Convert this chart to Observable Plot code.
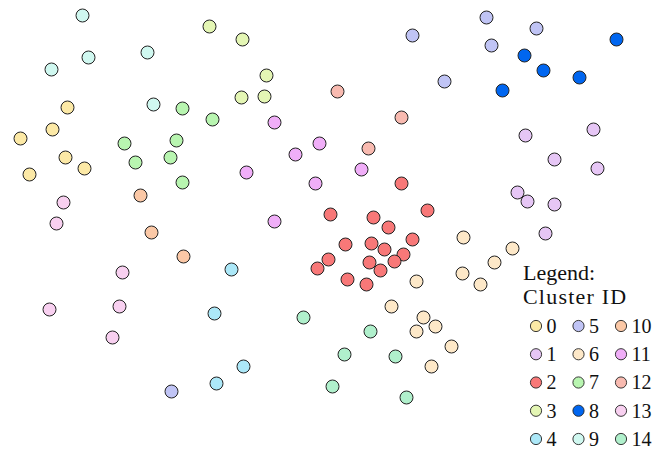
<!DOCTYPE html>
<html><head><meta charset="utf-8">
<script src="https://cdn.jsdelivr.net/npm/d3@7"></script>
<script src="https://cdn.jsdelivr.net/npm/@observablehq/plot@0.6"></script>
<style>
body{margin:0;background:#fff;}
#wrap{position:relative;width:665px;height:451px;overflow:hidden;}
#wrap svg{position:absolute;}
#title{position:absolute;left:523px;top:261px;font-family:"Liberation Serif","Times New Roman",serif;font-size:22px;line-height:23.5px;color:#111;white-space:nowrap;}
#title span{display:block;}
#title span.l2{letter-spacing:1.2px;}
</style></head><body><div id="wrap"><div id="title"></div></div>
<script>
const clusterIds = [0,1,2,3,4,5,6,7,8,9,10,11,12,13,14];
const clusterColors = ["#fce9a6","#e6c6f5","#f87878","#e4f6b4","#ace8f8","#c0c4f5","#fde8c8","#b8f5b0","#0066f0","#d0f8f0","#fbc8a6","#f0aef8","#f8bab0","#f8d0f0","#b0f0cc"];
const legendTitle = ["Legend:", "Cluster ID"];

// point positions (x, y measured from top)
const c0 = [[67,107],[52,129],[20,138],[65,157],[84,168],[29,174]];
const c1 = [[525,135],[593,129],[554,159],[597,168],[517,192],[527,201],[554,204],[545,233]];
const c2 = [[401,183],[330,214],[373,217],[388,227],[427,210],[345,244],[371,243],[384,249],[412,239],[403,254],[394,261],[369,262],[380,270],[328,259],[317,268],[347,279],[366,284]];
const c3 = [[209,26],[242,39],[266,75],[241,97],[264,96]];
const c4 = [[231,269],[214,313],[243,366],[216,383]];
const c5 = [[486,17],[412,35],[536,28],[491,45],[444,81],[171,391]];
const c6 = [[463,237],[512,248],[494,262],[462,273],[480,284],[416,281],[391,306],[423,317],[435,326],[416,331],[451,346],[431,366]];
const c7 = [[182,108],[212,119],[124,143],[176,140],[170,157],[135,162],[182,182]];
const c8 = [[616,39],[524,55],[543,70],[579,77],[502,90]];
const c9 = [[82,15],[88,57],[51,69],[147,52],[153,104]];
const c10 = [[140,195],[151,232],[183,256]];
const c11 = [[274,122],[319,143],[295,154],[246,172],[315,183],[274,221],[361,169]];
const c12 = [[337,91],[401,117],[368,148]];
const c13 = [[63,202],[56,223],[122,272],[49,309],[119,306],[112,337]];
const c14 = [[303,317],[370,331],[344,354],[395,356],[332,386],[406,397]];
const clusterPoints = [c0,c1,c2,c3,c4,c5,c6,c7,c8,c9,c10,c11,c12,c13,c14];

const data = clusterPoints.flatMap((pts, i) => pts.map(([x, y]) => ({x, y, cluster: clusterIds[i]})));
const color = {type: "ordinal", domain: clusterIds, range: clusterColors};

const main = Plot.plot({
  width: 665, height: 451, margin: 0,
  x: {domain: [0, 665], axis: null},
  y: {domain: [451, 0], axis: null},
  color,
  marks: [
    Plot.dot(data, {x: "x", y: "y", fill: "cluster", r: 6.5, stroke: "#222", strokeWidth: 1})
  ]
});
main.style.left = "0px"; main.style.top = "0px";

const legendRows = 5;
const legendData = clusterIds.map((id, i) => ({id, col: Math.floor(i / legendRows), row: i % legendRows}));
const legend = Plot.plot({
  width: 150, height: 140, margin: 0,
  x: {domain: [0, 2], range: [20.5, 105.5], axis: null},
  y: {domain: [0, 4], range: [15.5, 128.5], axis: null},
  color,
  marks: [
    Plot.dot(legendData, {x: "col", y: "row", fill: "id", r: 5.6, stroke: "#222", strokeWidth: 0.9}),
    Plot.text(legendData, {x: "col", y: "row", text: d => String(d.id), dx: 10.5, dy: 0.5, textAnchor: "start", fontSize: 20, fontFamily: "Liberation Serif, Times New Roman, serif", fill: "#111"})
  ]
});
legend.style.left = "515px"; legend.style.top = "310px";

const wrap = document.getElementById("wrap");
const title = document.getElementById("title");
legendTitle.forEach((t, i) => {
  const s = document.createElement("span");
  s.className = "l" + (i + 1);
  s.textContent = t;
  title.appendChild(s);
});
wrap.insertBefore(main, wrap.firstChild);
wrap.appendChild(legend);
</script>
</body></html>
